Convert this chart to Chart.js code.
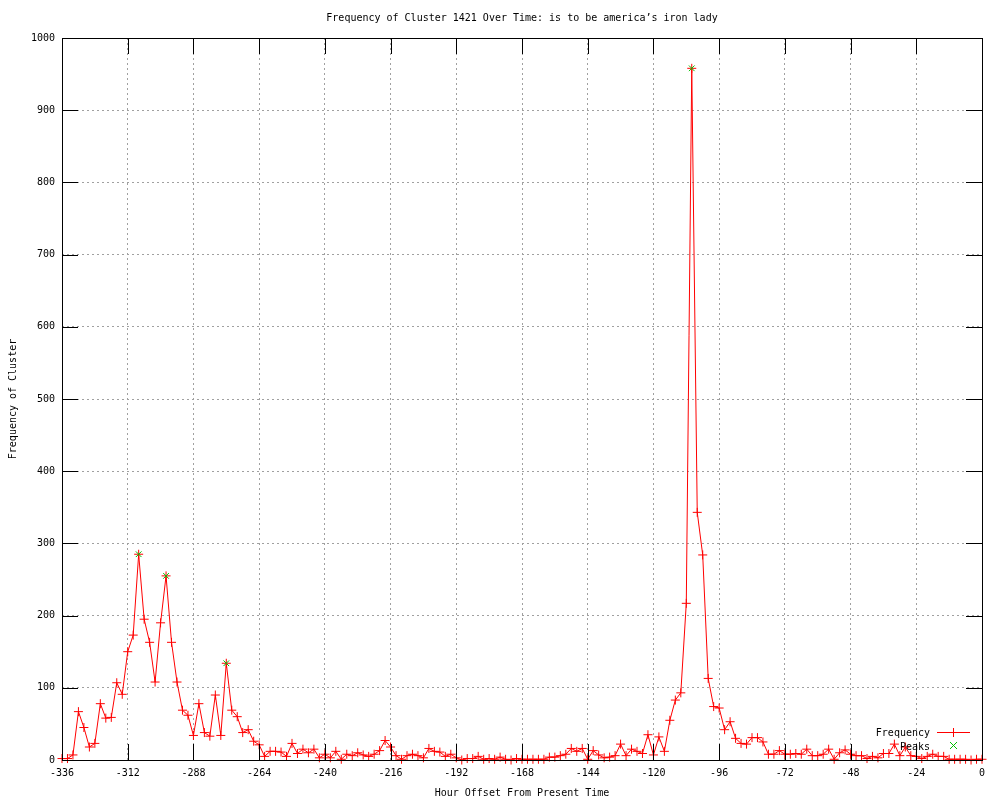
<!DOCTYPE html>
<html>
<head>
<meta charset="utf-8">
<script src="https://cdn.jsdelivr.net/npm/chart.js@4"></script>
<style>
  body { margin: 0; background: #fff; }
  #wrap { width: 1000px; height: 800px; }
</style>
</head>
<body>
<div id="wrap"><canvas id="clusterChart" width="1000" height="800"></canvas></div>
<script>
// Horas (offset) e frequências
const hours = [
  -336, -334, -332, -330, -328, -326, -324, -322, -320, -318, -316, -314, -312, -310, -308, -306, -304, -302, -300, -298,
  -296, -294, -292, -290, -288, -286, -284, -282, -280, -278, -276, -274, -272, -270, -268, -266, -264, -262, -260, -258,
  -256, -254, -252, -250, -248, -246, -244, -242, -240, -238, -236, -234, -232, -230, -228, -226, -224, -222, -220, -218,
  -216, -214, -212, -210, -208, -206, -204, -202, -200, -198, -196, -194, -192, -190, -188, -186, -184, -182, -180, -178,
  -176, -174, -172, -170, -168, -166, -164, -162, -160, -158, -156, -154, -152, -150, -148, -146, -144, -142, -140, -138,
  -136, -134, -132, -130, -128, -126, -124, -122, -120, -118, -116, -114, -112, -110, -108, -106, -104, -102, -100, -98,
  -96, -94, -92, -90, -88, -86, -84, -82, -80, -78, -76, -74, -72, -70, -68, -66, -64, -62, -60, -58,
  -56, -54, -52, -50, -48, -46, -44, -42, -40, -38, -36, -34, -32, -30, -28, -26, -24, -22, -20, -18,
  -16, -14, -12, -10, -8, -6, -4, -2, 0
];
const frequency = [
  2, 2, 7, 67, 45, 18, 23, 78, 58, 59, 107, 91, 150, 173, 285, 195, 163, 108, 190, 255,
  163, 108, 69, 62, 34, 78, 38, 33, 90, 34, 134, 69, 60, 38, 42, 26, 21, 5, 12, 12,
  11, 5, 23, 9, 15, 10, 15, 3, 8, 3, 12, 1, 8, 6, 10, 7, 5, 8, 13, 27,
  18, 6, 1, 6, 8, 6, 3, 16, 12, 11, 5, 8, 3, 0, 2, 2, 5, 1, 2, 1,
  4, 1, 0, 2, 1, 1, 1, 1, 1, 4, 4, 6, 8, 16, 12, 16, 1, 13, 7, 3,
  4, 6, 22, 6, 15, 12, 9, 35, 7, 32, 12, 55, 83, 93, 217, 958, 343, 284, 113, 74,
  72, 42, 53, 30, 23, 22, 31, 31, 25, 8, 8, 13, 8, 8, 9, 8, 15, 6, 6, 8,
  15, 1, 10, 14, 8, 6, 6, 2, 5, 3, 9, 9, 22, 6, 18, 6, 5, 2, 5, 8,
  5, 5, 1, 1, 1, 1, 0, 1, 1
];
const peakHours = [-308, -298, -276, -106];
const peakValues = [285, 255, 134, 958];

const xTicksStep = 24;
const yTicksStep = 100;

Chart.defaults.font.family = "'DejaVu Sans Mono', 'Liberation Mono', monospace";
Chart.defaults.font.size = 10;
Chart.defaults.color = '#000';

// Moldura, ticks internos e legenda no estilo gnuplot
const gnuplotFrame = {
  id: 'gnuplotFrame',
  afterDatasetsDraw(chart) {
    const { ctx, chartArea: a, scales: { x, y } } = chart;
    ctx.save();
    ctx.strokeStyle = '#000';
    ctx.lineWidth = 1;
    ctx.beginPath();
    x.ticks.forEach(t => {
      const px = Math.round(x.getPixelForValue(t.value)) + 0.5;
      ctx.moveTo(px, a.bottom); ctx.lineTo(px, a.bottom - 16);
      ctx.moveTo(px, a.top); ctx.lineTo(px, a.top + 16);
    });
    y.ticks.forEach(t => {
      const py = Math.round(y.getPixelForValue(t.value)) + 0.5;
      ctx.moveTo(a.left, py); ctx.lineTo(a.left + 16, py);
      ctx.moveTo(a.right, py); ctx.lineTo(a.right - 16, py);
    });
    ctx.stroke();
    ctx.strokeRect(Math.round(a.left) + 0.5, Math.round(a.top) + 0.5, Math.round(a.width), Math.round(a.height));

    // legenda
    const lx = a.right - 52, ly = a.bottom - 28;
    ctx.font = Chart.helpers.toFont(Chart.defaults.font).string;
    ctx.fillStyle = '#000';
    ctx.textAlign = 'right';
    ctx.textBaseline = 'middle';
    ctx.fillText('Frequency', lx, ly + 1);
    ctx.fillText('Peaks', lx, ly + 15);
    ctx.strokeStyle = 'red';
    ctx.beginPath();
    ctx.moveTo(lx + 7, ly + 0.5); ctx.lineTo(lx + 40, ly + 0.5);
    ctx.moveTo(lx + 23.5, ly - 4); ctx.lineTo(lx + 23.5, ly + 5);
    ctx.stroke();
    ctx.strokeStyle = '#00c000';
    ctx.beginPath();
    ctx.moveTo(lx + 20, ly + 10); ctx.lineTo(lx + 27, ly + 17);
    ctx.moveTo(lx + 27, ly + 10); ctx.lineTo(lx + 20, ly + 17);
    ctx.stroke();
    ctx.restore();
  }
};

const config = {
  type: 'line',
  data: {
    datasets: [{
      label: 'Peaks',
      data: peakHours.map((h, i) => ({ x: h, y: peakValues[i] })),
      showLine: false,
      pointStyle: 'crossRot',
      pointRadius: 4,
      borderColor: '#00c000',
      borderWidth: 1,
      clip: false,
      order: 0
    }, {
      label: 'Frequency',
      data: hours.map((h, i) => ({ x: h, y: frequency[i] })),
      borderColor: 'red',
      backgroundColor: 'red',
      borderWidth: 1,
      pointStyle: 'cross',
      pointRadius: 4.5,
      pointBorderWidth: 1,
      tension: 0,
      fill: false,
      clip: false,
      order: 1
    }]
  },
  options: {
    responsive: false,
    animation: false,
    layout: { padding: { left: 0, right: 18, top: 0, bottom: 0 } },
    plugins: {
      legend: { display: false },
      tooltip: { enabled: false },
      title: {
        display: true,
        fullSize: false,
        text: 'Frequency of Cluster 1421 Over Time: is to be america\u2019s iron lady',
        font: { size: 10, weight: 'normal' },
        color: '#000',
        padding: { top: 12, bottom: 14 }
      }
    },
    scales: {
      x: {
        type: 'linear',
        min: -336,
        max: 0,
        afterFit: s => { s.height = 40; },
        ticks: { stepSize: xTicksStep, maxRotation: 0, autoSkip: false, padding: 7, callback: v => String(v) },
        grid: { color: '#a0a0a0', drawTicks: false },
        border: { display: false, dash: [2, 3] },
        title: { display: true, text: 'Hour Offset From Present Time', padding: { top: 0, bottom: 1 } }
      },
      y: {
        min: 0,
        max: 1000,
        afterFit: s => { s.width = 62; },
        ticks: { stepSize: yTicksStep, padding: 7, callback: v => String(v) },
        grid: { color: '#a0a0a0', drawTicks: false },
        border: { display: false, dash: [2, 3] },
        title: { display: true, text: 'Frequency of Cluster', padding: { top: 7, bottom: 0 } }
      }
    }
  },
  plugins: [gnuplotFrame]
};

new Chart(document.getElementById('clusterChart').getContext('2d'), config);
</script>
</body>
</html>
